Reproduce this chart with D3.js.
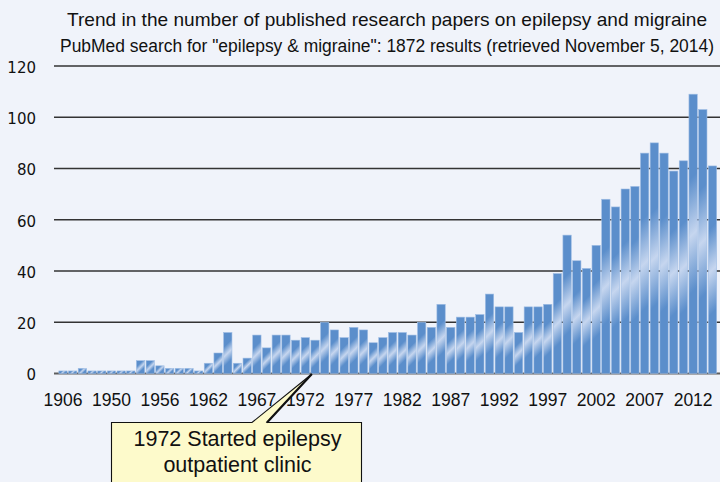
<!DOCTYPE html>
<html>
<head>
<meta charset="utf-8">
<script src="https://cdn.jsdelivr.net/npm/d3@7"></script>
<style>
  html, body { margin: 0; padding: 0; background: #F0F3FA; }
  svg { display: block; }
</style>
</head>
<body>
<svg id="chart" width="720" height="482"></svg>
<script>
// ---- data ----
const years = ["1906","1926","1937","1947","1949","1950","1951","1952","1953","1955",
  "1956","1957","1958","1959","1960",
  "1962","1963","1964","1965","1966","1967","1968","1969","1970","1971",
  "1972","1973","1974","1975","1976","1977","1978","1979","1980","1981",
  "1982","1983","1984","1985","1986","1987","1988","1989","1990","1991",
  "1992","1993","1994","1995","1996","1997","1998","1999","2000","2001",
  "2002","2003","2004","2005","2006","2007","2008","2009","2010","2011",
  "2012","2013","2014"];
const papers = [1,1,2,1,1,1,1,1,5,5,
  3,2,2,2,1,
  4,8,16,4,6,15,10,15,15,13,
  14,13,20,17,14,18,17,12,14,16,
  16,15,20,18,27,18,22,22,23,31,
  26,26,16,26,26,27,39,54,44,41,
  50,68,65,72,73,86,90,86,79,83,
  109,103,81];
const xTickLabels = ["1906","1950","1956","1962","1967","1972","1977","1982","1987","1992","1997","2002","2007","2012"];
const yTicks = [0,20,40,60,80,100,120];
const titleText = "Trend in the number of published research papers on epilepsy and migraine";
const subtitleText = "PubMed search for \"epilepsy & migraine\": 1872 results (retrieved November 5, 2014)";
const calloutLines = ["1972 Started epilepsy", "outpatient clinic"];
const calloutYear = "1972";

// ---- layout ----
const svg = d3.select("#chart");
const W = 720, H = 482;
const gridLeft = 54, gridRight = 720;

const x = d3.scaleBand().domain(years).range([58.15, 717.35])
  .paddingInner(0.14).paddingOuter(0.07);
const y = d3.scaleLinear().domain([0, 120]).range([373.5, 66]);

svg.append("rect").attr("width", W).attr("height", H).attr("fill", "#F0F3FA");

// titles
svg.append("text").attr("x", 387).attr("y", 26)
  .attr("text-anchor", "middle")
  .attr("font-family", "Liberation Sans, Arial, sans-serif")
  .attr("font-size", 19).attr("fill", "#111")
  .attr("textLength", 640).attr("lengthAdjust", "spacingAndGlyphs")
  .text(titleText);
svg.append("text").attr("x", 387).attr("y", 52)
  .attr("text-anchor", "middle")
  .attr("font-family", "Liberation Sans, Arial, sans-serif")
  .attr("font-size", 17.5).attr("fill", "#111")
  .attr("textLength", 654).attr("lengthAdjust", "spacingAndGlyphs")
  .text(subtitleText);

// gridlines
svg.append("g").selectAll("line").data(yTicks).join("line")
  .attr("x1", gridLeft).attr("x2", gridRight)
  .attr("y1", d => y(d)).attr("y2", d => y(d))
  .attr("stroke", d => d === 0 ? "#5e5e5e" : "#333")
  .attr("stroke-width", d => d === 0 ? 1.8 : 1.4);

// y labels
svg.append("g").selectAll("text").data(yTicks).join("text")
  .attr("x", 36).attr("y", d => y(d) + 1.5).attr("dy", "0.36em")
  .attr("text-anchor", "end")
  .attr("font-family", "DejaVu Sans, sans-serif")
  .attr("font-size", 15).attr("fill", "#111")
  .text(d => d);

// gradients per bar
const defs = svg.append("defs");
const base = "#5B8ECB", light = "#C6D6EF";
years.forEach((yr, i) => {
  const x0 = x(yr), w = x.bandwidth();
  const y0 = y(papers[i]), h = y(0) - y0;
  const cx = x0 + w / 2, cy = y0 + h / 2;
  const d = (w + h) / 4;
  const g = defs.append("linearGradient").attr("id", "g" + i)
    .attr("gradientUnits", "userSpaceOnUse")
    .attr("x1", cx - d).attr("y1", cy - d)
    .attr("x2", cx + d).attr("y2", cy + d);
  g.append("stop").attr("offset", 0).attr("stop-color", base);
  g.append("stop").attr("offset", 0.3).attr("stop-color", base);
  g.append("stop").attr("offset", 0.5).attr("stop-color", light);
  g.append("stop").attr("offset", 0.7).attr("stop-color", base);
  g.append("stop").attr("offset", 1).attr("stop-color", base);
});

svg.append("g").selectAll("rect").data(years).join("rect")
  .attr("x", d => x(d))
  .attr("y", (d, i) => y(papers[i]))
  .attr("width", x.bandwidth())
  .attr("height", (d, i) => y(0) - y(papers[i]))
  .attr("fill", (d, i) => `url(#g${i})`)
  .attr("stroke", "#9fbde4").attr("stroke-width", 0.6);

// x axis labels
const xAxis = d3.axisBottom(x).tickValues(xTickLabels).tickSize(0).tickPadding(0);
const gx = svg.append("g").attr("transform", "translate(0,406)").call(xAxis);
gx.select(".domain").remove();
gx.selectAll("text")
  .attr("y", 0).attr("dy", 0)
  .attr("font-family", "Liberation Sans, Arial, sans-serif")
  .attr("font-size", 17.5).attr("fill", "#111");

// callout
const tipX = x(calloutYear) + x.bandwidth() / 2 + 6.5, tipY = y(0) + 0.5;
const bx0 = 111.5, bx1 = 361.5, by0 = 422.5, by1 = 495;
const p0 = 252, p1 = 267;
svg.append("path")
  .attr("d", `M${bx0},${by0} H${p0} L${tipX},${tipY} L${p1},${by0} H${bx1} V${by1} H${bx0} Z`)
  .attr("fill", "#FDFACB").attr("stroke", "#111").attr("stroke-width", 1.1);
svg.append("line").attr("x1", tipX).attr("y1", tipY).attr("x2", p1).attr("y2", by0)
  .attr("stroke", "#111").attr("stroke-width", 2.2);
svg.append("g").selectAll("text").data(calloutLines).join("text")
  .attr("x", 237.5).attr("y", (d, i) => 446 + i * 26)
  .attr("text-anchor", "middle")
  .attr("font-family", "Liberation Sans, Arial, sans-serif")
  .attr("font-size", 21.5).attr("fill", "#111")
  .text(d => d);
</script>
</body>
</html>
